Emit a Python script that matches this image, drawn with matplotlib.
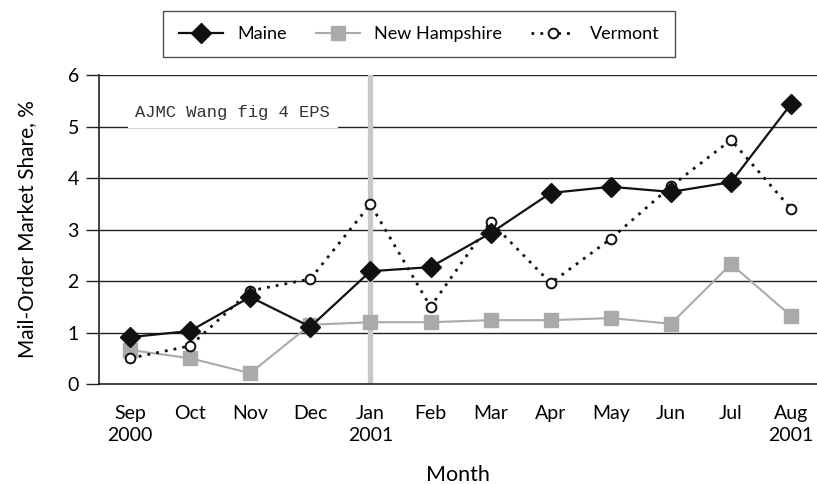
import numpy as np
import matplotlib.pyplot as plt

# months on the x axis
months = ['Sep\n2000', 'Oct', 'Nov', 'Dec', 'Jan\n2001', 'Feb', 'Mar',
          'Apr', 'May', 'Jun', 'Jul', 'Aug\n2001']

# mail-order market share, %
maine = [0.91, 1.03, 1.69, 1.11, 2.19, 2.27, 2.93, 3.71, 3.83, 3.73, 3.92, 5.44]
new_hampshire = [0.66, 0.50, 0.21, 1.15, 1.20, 1.20, 1.24, 1.24, 1.28, 1.17, 2.33, 1.32]
vermont = [0.50, 0.74, 1.81, 2.04, 3.49, 1.50, 3.15, 1.96, 2.82, 3.84, 4.74, 3.40]

y_ticks = [0, 1, 2, 3, 4, 5, 6]

plt.rcParams['font.family'] = ['Lato', 'DejaVu Sans']

fig = plt.figure(figsize=(8.17, 4.84), dpi=100)
ax = fig.add_axes([0.1212, 0.2066, 0.8788, 0.6384])

x = np.arange(len(months))

# horizontal rules
for yv in y_ticks[1:]:
    ax.axhline(yv, color='#222222', lw=1.0, zorder=1)

# gray marker line at Jan 2001
ax.axvline(4, color='#c8c8c8', lw=3.8, zorder=1.5)

ax.plot(x, new_hampshire, color='#aaaaaa', lw=1.5, marker='s', ms=10.5,
        mfc='#aaaaaa', mec='#aaaaaa', label='New Hampshire', zorder=3)
ax.plot(x, vermont, color='#111111', lw=2, linestyle=(0, (1, 2.2)), marker='o',
        ms=7, mfc='white', mec='#111111', mew=1.4, label='Vermont', zorder=4)
ax.plot(x, maine, color='#111111', lw=1.6, marker='D', ms=10.5,
        mfc='#111111', mec='#111111', label='Maine', zorder=5)

ax.text(1.71, 5.27, 'AJMC Wang fig 4 EPS', family=['Liberation Mono', 'DejaVu Sans Mono'],
        fontsize=12.3, color='#333333', ha='center', va='center', zorder=2,
        bbox=dict(boxstyle='square,pad=0.45', fc='white', ec='none'))

ax.set_xlim(-0.516, 11.43)
ax.set_ylim(0, 6)
ax.set_yticks(y_ticks)
ax.set_xticks(x)
ax.set_xticklabels(months, fontsize=14, linespacing=1.38)
ax.tick_params(axis='y', length=9.5, width=1, labelsize=14, pad=5, color='#222222')
ax.tick_params(axis='x', length=0, pad=15)

for s in ['top', 'right']:
    ax.spines[s].set_visible(False)
ax.spines['left'].set_color('#222222')
ax.spines['bottom'].set_color('#222222')
ax.spines['left'].set_linewidth(1.2)
ax.spines['bottom'].set_linewidth(1.2)

ax.set_ylabel('Mail-Order Market Share, %', fontsize=15, labelpad=22)
ax.set_xlabel('Month', fontsize=15.5, labelpad=15)

handles, labels = ax.get_legend_handles_labels()
order = [2, 0, 1]
leg = fig.legend([handles[i] for i in order], [labels[i] for i in order],
                 loc='center', bbox_to_anchor=(0.513, 0.93), ncol=3,
                 fontsize=13, frameon=True, fancybox=False, handlelength=2.45,
                 handletextpad=0.8, columnspacing=1.6, borderpad=0.85,
                 edgecolor='#222222')
leg.get_frame().set_linewidth(1.0)

fig.savefig('out.png', dpi=100)
